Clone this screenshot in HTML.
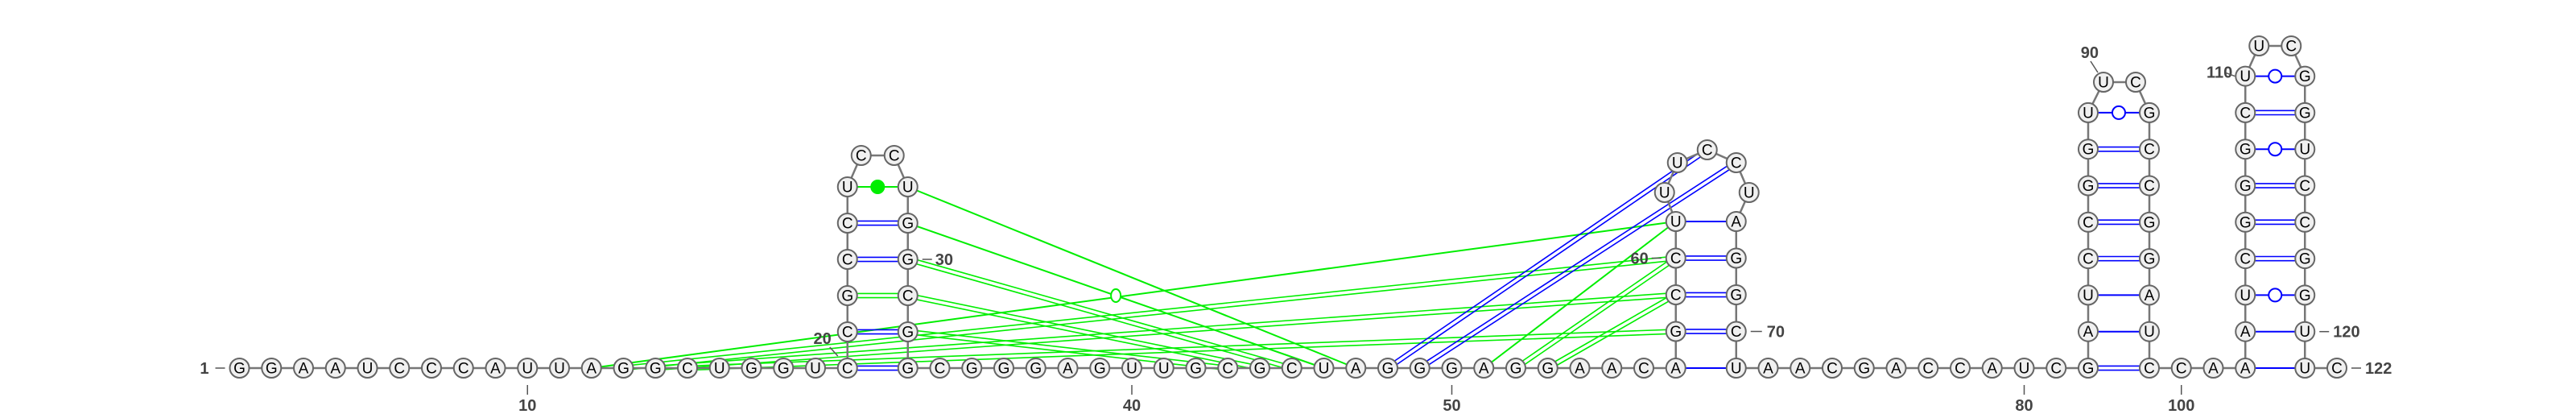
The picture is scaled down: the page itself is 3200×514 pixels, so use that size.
<!DOCTYPE html>
<html><head><meta charset="utf-8">
<style>
html,body{margin:0;padding:0;background:#fff;}
svg{display:block;}
text{font-family:"Liberation Sans","DejaVu Sans",sans-serif;}
.nt{font-size:19px;fill:#000;text-anchor:middle;dominant-baseline:central;}
.lbl{font-size:20px;font-weight:bold;fill:#444;}
</style></head>
<body>
<svg id="chart" width="3200" height="514" viewBox="0 0 3200 514" xmlns="http://www.w3.org/2000/svg">
<g id="pairs"></g>
<g id="backbone"></g>
<g id="nts"></g>
<g id="labels"></g>
</svg>
<script>
const sequence = "GGAAUCCCAUUAGGCUGGUC" + "CGCCUCCUGGCGG" + "CGGGAGUUGCGCUAGGGAGGAACA" + "GCCUUUCCUAGGCU" + "AACGACCAUCG" + "AUCCGGUUCGCCGGAUC" + "CAA" + "AUCGGGCUUCGGUCCGGUU" + "C";
// secondary pairs [i, j, type]
const stemPairs = [
 [20,33,'wc'],[21,32,'wc'],[22,31,'gwc'],[23,30,'wc'],[24,29,'wc'],[25,28,'fill'],
 [57,71,'s'],[58,70,'wc'],[59,69,'wc'],[60,68,'wc'],[61,67,'s'],
 [82,99,'wc'],[83,98,'s'],[84,97,'s'],[85,96,'wc'],[86,95,'wc'],[87,94,'wc'],[88,93,'wc'],[89,92,'wob'],
 [102,121,'s'],[103,120,'s'],[104,119,'wob'],[105,118,'wc'],[106,117,'wc'],[107,116,'wc'],[108,115,'wob'],[109,114,'wc'],[110,113,'wob']
];
// tertiary / long-range interactions [i, j, type]
const tertiaryPairs = [
 [12,61,'gs'],[13,60,'gd'],[14,59,'gd'],[15,58,'gd'],
 [28,47,'gs'],[29,46,'gcirc'],[30,45,'gd'],[31,44,'gd'],[32,43,'gd'],
 [51,61,'gs'],[52,60,'gd'],[53,59,'gd'],
 [48,64,'bd'],[49,65,'bd']
];
const tickPositions = [10,40,50,80,100];
const tickLabels = ["10","40","50","80","100"];

// ---- layout ----
const S=39.75, BY=457, RH=45.3;
const P={};
function base(i,x){P[i]=[x,BY];}
for(let i=1;i<=20;i++) base(i,297.5+(i-1)*S);
const x20=P[20][0], x33=x20+75;
for(let i=21;i<=25;i++) P[i]=[x20,BY-(i-20)*45];
P[26]=[x20+17,193]; P[27]=[x20+58,193];
for(let i=28;i<=32;i++) P[i]=[x33,BY-(33-i)*45];
for(let i=33;i<=57;i++) base(i,x33+(i-33)*S);
const x57=P[57][0], x71=x57+75;
for(let i=58;i<=61;i++) P[i]=[x57,BY-(i-57)*45.5];
P[62]=[x57-14,239]; P[63]=[x57+2,202]; P[64]=[x57+39,186]; P[65]=[x71,202]; P[66]=[x71+16,239];
for(let i=67;i<=70;i++) P[i]=[x71,BY-(71-i)*45.5];
for(let i=71;i<=82;i++) base(i,x71+(i-71)*S);
const x82=P[82][0], x99=x82+76;
for(let i=83;i<=89;i++) P[i]=[x82,BY-(i-82)*RH];
P[90]=[x82+19,102]; P[91]=[x82+59,102];
for(let i=92;i<=98;i++) P[i]=[x99,BY-(99-i)*RH];
for(let i=99;i<=102;i++) base(i,x99+(i-99)*S);
const x102=P[102][0], x121=x102+74;
for(let i=103;i<=110;i++) P[i]=[x102,BY-(i-102)*RH];
P[111]=[x102+17,57]; P[112]=[x102+57,57];
for(let i=113;i<=120;i++) P[i]=[x121,BY-(121-i)*RH];
base(121,x121); base(122,x121+S);

const NS="http://www.w3.org/2000/svg";
function mk(tag,attrs,parent){const e=document.createElementNS(NS,tag);for(const k in attrs)e.setAttribute(k,attrs[k]);parent.appendChild(e);return e;}
const gP=document.getElementById('pairs'),gB=document.getElementById('backbone'),gN=document.getElementById('nts'),gL=document.getElementById('labels');
const BLUE='#0000ff',GREEN='#00ee00';

function line(a,b,col,w,name,off){
  const dx=b[0]-a[0],dy=b[1]-a[1],L=Math.hypot(dx,dy),nx=-dy/L*(off||0),ny=dx/L*(off||0);
  const l=mk('line',{x1:a[0]+nx,y1:a[1]+ny,x2:b[0]+nx,y2:b[1]+ny,stroke:col,'stroke-width':w},gP);
  
  
  return l;
}
function drawPair(p,kind){
  const a=P[p[0]],b=P[p[1]],t=p[2],nm=kind+'-'+p[0]+'-'+p[1];
  if(t==='wc'){line(a,b,BLUE,1.6,nm,-2.6);line(a,b,BLUE,1.6,nm,2.6);}
  else if(t==='gwc'||t==='gd'){line(a,b,GREEN,1.6,nm,-2.6);line(a,b,GREEN,1.6,nm,2.6);}
  else if(t==='bd'){line(a,b,BLUE,1.6,nm,-2.6);line(a,b,BLUE,1.6,nm,2.6);}
  else if(t==='s'){line(a,b,BLUE,2,nm,0);}
  else if(t==='gs'){line(a,b,GREEN,2,nm,0);}
  else if(t==='wob'||t==='fill'||t==='gcirc'){
    const col=t==='wob'?BLUE:GREEN;
    line(a,b,col,2,nm,0);
    const c=mk('ellipse',{cx:(a[0]+b[0])/2,cy:(a[1]+b[1])/2,rx:t==='gcirc'?6:8,ry:8,fill:t==='fill'?GREEN:'#fff',stroke:col,'stroke-width':2},gP);
    
    
  }
}
tertiaryPairs.forEach(p=>drawPair(p,'tertiary-pair'));
stemPairs.forEach(p=>drawPair(p,'base-pair'));

// backbone
let pts=[];for(let i=1;i<=sequence.length;i++)pts.push(P[i].join(','));
const bb=mk('polyline',{points:pts.join(' '),fill:'none',stroke:'#777','stroke-width':2.5},gB);



// nucleotides
for(let i=1;i<=sequence.length;i++){
  const g=mk('g',{},gN);
  
  
  mk('circle',{cx:P[i][0],cy:P[i][1],r:12,fill:'#f0f0f0',stroke:'#666','stroke-width':2},g);
  const t=mk('text',{x:P[i][0],y:P[i][1]+1,class:'nt'},g);t.textContent=sequence[i-1];
}

// ticks below baseline
tickPositions.forEach((n,k)=>{
  const x=P[n][0];
  const l=mk('line',{x1:x,y1:478,x2:x,y2:490,stroke:'#555','stroke-width':1.5},gL);
  
  
  const t=mk('text',{x:x,y:510,class:'lbl','text-anchor':'middle'},gL);
  t.textContent=tickLabels[k];
  
  
});
function lab(txt,x,y,anchor,name,lx1,ly1,lx2,ly2){
  const t=mk('text',{x:x,y:y,class:'lbl','text-anchor':anchor},gL);t.textContent=txt;
  
  
  if(lx1!==undefined){const l=mk('line',{x1:lx1,y1:ly1,x2:lx2,y2:ly2,stroke:'#555','stroke-width':1.5},gL);
    
    }
}
lab('1',P[1][0]-38,BY+7,'end','label-1',P[1][0]-30,BY,P[1][0]-18,BY);
lab('20',x20-20,BY-30,'end','label-20',x20-22,BY-26,x20-12,BY-15);
lab('30',x33+34,P[30][1]+7,'start','label-30',x33+18,P[30][1],x33+30,P[30][1]);
lab('60',x57-34,P[60][1]+7,'end','label-60',x57-30,P[60][1],x57-18,P[60][1]);
lab('70',x71+38,P[70][1]+7,'start','label-70',x71+18,P[70][1],x71+32,P[70][1]);
lab('90',P[90][0]-6,72,'end','label-90',P[90][0]-16,76,P[90][0]-7,90);
lab('110',P[110][0]-16,P[110][1]+2,'end','label-110',P[110][0]-24,P[110][1]-4,P[110][0]-13,P[110][1]);
lab('120',x121+35,P[120][1]+7,'start','label-120',x121+18,P[120][1],x121+30,P[120][1]);
lab('122',P[122][0]+35,BY+7,'start','label-122',P[122][0]+18,BY,P[122][0]+30,BY);
</script>
</body></html>
